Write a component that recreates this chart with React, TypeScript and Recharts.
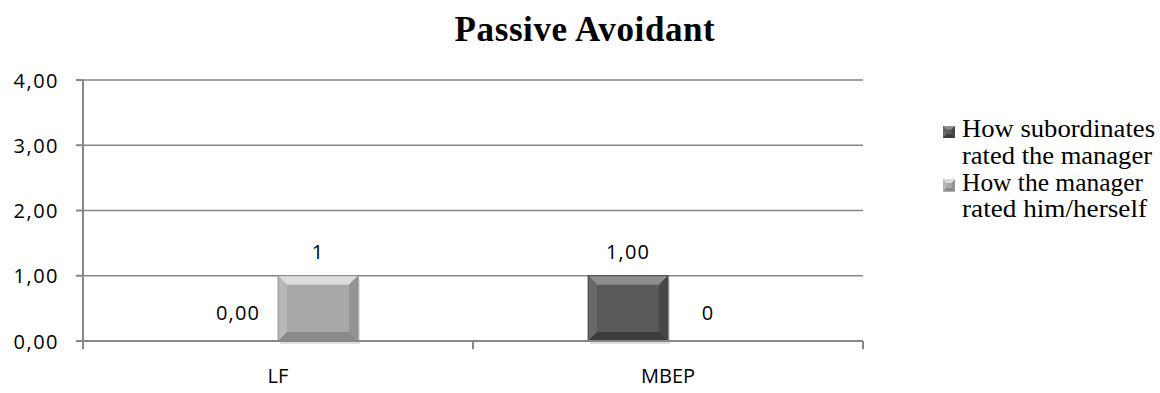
import React from 'react';
import { BarChart, Bar, XAxis, YAxis, CartesianGrid, LabelList, Legend } from 'recharts';

const categories = ['LF', 'MBEP'];
const subordinatesRating = [0, 1];
const selfRating = [1, 0];
const yTicks = [0, 1, 2, 3, 4];
const seriesNames = ['How subordinates rated the manager', 'How the manager rated him/herself'];
const legendLines = [
  ['How subordinates', 'rated the manager'],
  ['How the manager', 'rated him/herself'],
];
const title = 'Passive Avoidant';

const data = categories.map((c, i) => ({
  name: c,
  sub: subordinatesRating[i],
  self: selfRating[i],
}));

const W = 1160;
const H = 393;
const MARGIN = { top: 80, right: 297, bottom: 0, left: 0 };
const Y_W = 83;
const X_H = 52;
const PLOT_W = W - MARGIN.right - MARGIN.left - Y_W;
const HALF_BAND = PLOT_W / categories.length / 2;

const AXIS_COLOR = '#878787';
const SANS = '"Open Sans", "DejaVu Sans", sans-serif';
const SERIF = '"Liberation Serif", "DejaVu Serif", serif';

// legend styling (line widths in px, matching the reference's stretched serif text)
const LEGEND_TOP = 108;
const LEGEND_LINE_WIDTHS = [[193, 190], [181, 185]];

const palettes = {
  dark: { base: '#5a5a5a', top: '#8e8e8e', left: '#686868', right: '#474747', bottom: '#3c3c3c', edge: '#3a3a3a' },
  light: { base: '#a8a8a8', top: '#dcdcdc', left: '#b8b8b8', right: '#949494', bottom: '#8a8a8a', edge: '#808080' },
};

const BevelBar = (props: any) => {
  const { x, y, width, height, variant } = props;
  if (!height || height <= 0) return null;
  const p = (palettes as any)[variant];
  const b = Math.min(9, height / 4, width / 4);
  const x2 = x + width;
  const y2 = y + height;
  return (
    <g>
      <rect x={x + 2} y={y + 3} width={width} height={height} fill="#000" opacity={0.12} />
      <rect x={x} y={y} width={width} height={height} fill={p.base} />
      <polygon points={`${x},${y} ${x2},${y} ${x2 - b},${y + b} ${x + b},${y + b}`} fill={p.top} />
      <polygon points={`${x},${y} ${x + b},${y + b} ${x + b},${y2 - b} ${x},${y2}`} fill={p.left} />
      <polygon points={`${x2},${y} ${x2},${y2} ${x2 - b},${y2 - b} ${x2 - b},${y + b}`} fill={p.right} />
      <polygon points={`${x},${y2} ${x2},${y2} ${x2 - b},${y2 - b} ${x + b},${y2 - b}`} fill={p.bottom} />
      <rect x={x} y={y} width={width} height={height} fill="none" stroke={p.edge} strokeWidth={0.8} />
    </g>
  );
};

const makeLabel = (fmt: (v: number) => string) => (props: any) => {
  const { x, y, width, height, value } = props;
  const off = height > 0 ? 24 : 29;
  return (
    <text
      x={x + width / 2}
      y={y - off}
      textAnchor="middle"
      dominantBaseline="central"
      fontFamily={SANS}
      fontSize={20}
      letterSpacing={1.2}
      fill="#000"
    >
      {fmt(value)}
    </text>
  );
};

const fmtComma = (v: number) => v.toFixed(2).replace('.', ',');
const fmtPlain = (v: number) => String(v);

const XTick = (props: any) => {
  const { x, y, payload, index } = props;
  const lx = x - HALF_BAND;
  const rx = x + HALF_BAND;
  return (
    <g>
      <line x1={lx} y1={y - 8} x2={lx} y2={y} stroke={AXIS_COLOR} strokeWidth={2} />
      {index === categories.length - 1 && (
        <line x1={rx} y1={y - 8} x2={rx} y2={y} stroke={AXIS_COLOR} strokeWidth={2} />
      )}
      <text x={x} y={y + 26} textAnchor="middle" dominantBaseline="central" fontFamily={SANS} fontSize={20} fill="#000">
        {payload.value}
      </text>
    </g>
  );
};

const YTick = (props: any) => {
  const { x, y, payload } = props;
  return (
    <text x={x} y={y} textAnchor="end" dominantBaseline="central" fontFamily={SANS} fontSize={20} letterSpacing={1.5} fill="#000">
      {fmtComma(payload.value)}
    </text>
  );
};

const LegendIcon = ({ variant, x, y }: { variant: string; x: number; y: number }) => {
  const p = (palettes as any)[variant];
  const s = 12;
  const b = 3.5;
  return (
    <g transform={`translate(${x},${y})`}>
      <rect x={0} y={0} width={s} height={s} fill={p.base} />
      <polygon points={`0,0 ${s},0 ${s - b},${b} ${b},${b}`} fill={p.top} />
      <polygon points={`0,0 ${b},${b} ${b},${s - b} 0,${s}`} fill={p.left} />
      <polygon points={`${s},0 ${s},${s} ${s - b},${s - b} ${s - b},${b}`} fill={p.right} />
      <polygon points={`0,${s} ${s},${s} ${s - b},${s - b} ${b},${s - b}`} fill={p.bottom} />
    </g>
  );
};

const LegendContent = () => {
  const variants = ['dark', 'light'];
  // baselines (absolute): 137, 163, 190, 217
  return (
    <svg width={220} height={125} style={{ display: 'block', overflow: 'visible' }}>
      {legendLines.map((lines, i) => (
        <g key={i}>
          <title>{seriesNames[i]}</title>
          <LegendIcon variant={variants[i]} x={3} y={137 - LEGEND_TOP - 11 + i * 53.5} />
          {lines.map((t, j) => (
            <text
              key={j}
              x={22}
              y={137 - LEGEND_TOP + i * 53.5 + j * 26.5}
              fontFamily={SERIF}
              fontSize={26}
              textLength={LEGEND_LINE_WIDTHS[i][j]}
              lengthAdjust="spacingAndGlyphs"
              fill="#000"
            >
              {t}
            </text>
          ))}
        </g>
      ))}
    </svg>
  );
};

export default function App() {
  return (
    <div style={{ position: 'absolute', left: 0, top: 0, width: W, height: H, background: '#fff', overflow: 'hidden' }}>
      <div
        style={{
          position: 'absolute',
          left: 0,
          width: 1170,
          top: 12,
          textAlign: 'center',
          fontFamily: SERIF,
          fontWeight: 'bold',
          fontSize: 35,
          lineHeight: '35px',
          color: '#000',
          letterSpacing: 0.6,
        }}
      >
        {title}
      </div>
      <BarChart width={W} height={H} data={data} margin={MARGIN} barCategoryGap="29.5%" barGap={0}>
        <CartesianGrid vertical={false} stroke={AXIS_COLOR} strokeWidth={1.5} />
        <XAxis
          dataKey="name"
          height={X_H}
          interval={0}
          tickLine={false}
          tickSize={8}
          tickMargin={0}
          axisLine={{ stroke: AXIS_COLOR, strokeWidth: 2 }}
          tick={<XTick />}
        />
        <YAxis
          width={Y_W}
          domain={[0, 4]}
          ticks={yTicks}
          interval={0}
          tickSize={7}
          tickMargin={17}
          axisLine={{ stroke: AXIS_COLOR, strokeWidth: 2 }}
          tickLine={{ stroke: AXIS_COLOR, strokeWidth: 2 }}
          tick={<YTick />}
        />
        <Legend
          verticalAlign="middle"
          layout="horizontal"
          content={<LegendContent />}
          wrapperStyle={{ left: 940, top: LEGEND_TOP, width: 220 }}
        />
        <Bar dataKey="sub" name={seriesNames[0]} fill={palettes.dark.base} isAnimationActive={false} shape={<BevelBar variant="dark" />}>
          <LabelList dataKey="sub" content={makeLabel(fmtComma)} />
        </Bar>
        <Bar dataKey="self" name={seriesNames[1]} fill={palettes.light.base} isAnimationActive={false} shape={<BevelBar variant="light" />}>
          <LabelList dataKey="self" content={makeLabel(fmtPlain)} />
        </Bar>
      </BarChart>
    </div>
  );
}
